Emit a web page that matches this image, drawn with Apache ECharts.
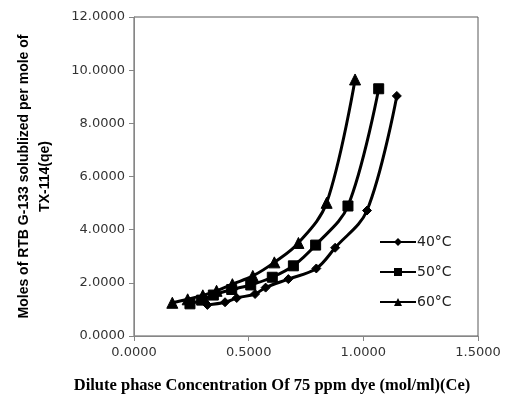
<!DOCTYPE html>
<html>
<head>
<meta charset="utf-8">
<script src="https://cdn.jsdelivr.net/npm/echarts@6/dist/echarts.min.js"></script>
<style>html,body{margin:0;padding:0;background:#fff}#c{width:507px;height:394px}</style>
</head>
<body>
<div id="c"></div>
<script>
const seriesNames = ['40°C', '50°C', '60°C'];
const x40 = [0.320, 0.397, 0.448, 0.528, 0.574, 0.673, 0.795, 0.877, 1.016, 1.146];
const y40 = [1.17, 1.27, 1.43, 1.58, 1.82, 2.14, 2.54, 3.32, 4.72, 9.03];
const x50 = [0.244, 0.295, 0.346, 0.426, 0.509, 0.603, 0.695, 0.792, 0.933, 1.067];
const y50 = [1.21, 1.35, 1.54, 1.75, 1.92, 2.21, 2.64, 3.42, 4.89, 9.30];
const x60 = [0.167, 0.234, 0.300, 0.360, 0.429, 0.518, 0.612, 0.717, 0.840, 0.964];
const y60 = [1.25, 1.38, 1.53, 1.70, 1.95, 2.26, 2.77, 3.50, 5.01, 9.65];
const xTicks = [0, 0.5, 1.0, 1.5];
const yTicks = [0, 2, 4, 6, 8, 10, 12];

const pairs = (xs, ys) => xs.map((v, i) => [v, ys[i]]);
const symbols = ['diamond', 'rect', 'triangle'];
const sizes = [9, 10, 11];
const data = [pairs(x40, y40), pairs(x50, y50), pairs(x60, y60)];

const chart = echarts.init(document.getElementById('c'), null, {renderer: 'canvas'});
chart.setOption({
  animation: false,
  backgroundColor: '#fff',
  grid: {left: 134, right: 29, top: 17, bottom: 58, containLabel: false, outerBoundsMode: 'none',
         show: true, borderColor: '#595959', borderWidth: 1, backgroundColor: 'transparent'},
  legend: {
    orient: 'vertical', left: 374, top: 230, itemWidth: 36, itemHeight: 10, itemGap: 16,
    data: seriesNames,
    textStyle: {fontFamily: 'DejaVu Sans', fontSize: 14, color: '#222', padding: [0, 0, 0, -4]}
  },
  xAxis: {
    type: 'value', min: xTicks[0], max: xTicks[xTicks.length - 1], interval: 0.5,
    axisLine: {lineStyle: {color: '#868686'}},
    axisTick: {show: true, length: 5, lineStyle: {color: '#868686'}},
    splitLine: {show: false},
    axisLabel: {formatter: v => v.toFixed(4), fontFamily: 'DejaVu Sans', fontSize: 13, color: '#333', margin: 10},
    name: 'Dilute phase Concentration Of 75 ppm dye (mol/ml)(Ce)',
    nameLocation: 'middle', nameGap: 41,
    nameTextStyle: {fontFamily: 'Liberation Serif', fontWeight: 'bold', fontSize: 16.5, color: '#000', padding: [0, 68, 0, 0]}
  },
  yAxis: {
    type: 'value', min: yTicks[0], max: yTicks[yTicks.length - 1], interval: 2,
    axisLine: {show: true, lineStyle: {color: '#868686'}},
    axisTick: {show: true, length: 5, lineStyle: {color: '#868686'}},
    splitLine: {show: false},
    axisLabel: {formatter: v => v.toFixed(4), fontFamily: 'DejaVu Sans', fontSize: 13, color: '#333', margin: 9},
    name: 'Moles of RTB G-133 solublized per mole of\nTX-114(qe)',
    nameLocation: 'middle', nameGap: 78, nameRotate: 90,
    nameTextStyle: {fontFamily: 'Liberation Sans', fontWeight: 'bold', fontSize: 14, color: '#000', lineHeight: 21, align: 'center'}
  },
  series: seriesNames.map((n, i) => ({
    name: n, type: 'line', data: data[i], smooth: 0.35,
    symbol: symbols[i], symbolSize: sizes[i], showSymbol: true,
    lineStyle: {color: '#000', width: 3},
    itemStyle: {color: '#000', borderColor: '#000'}
  }))
});
</script>
</body>
</html>
